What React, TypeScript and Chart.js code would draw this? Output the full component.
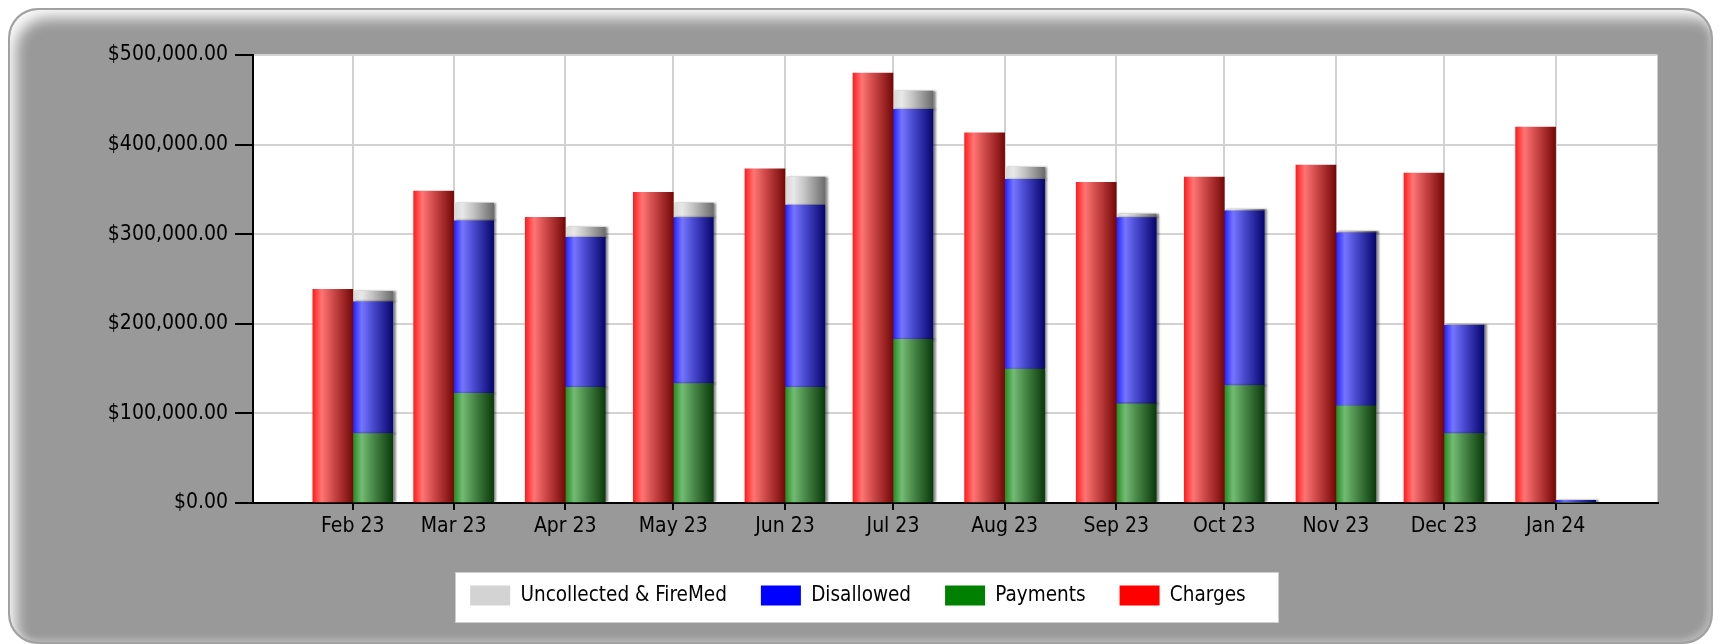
import { useEffect, useRef } from 'react';
import { Chart, registerables } from 'chart.js';

Chart.register(...registerables);

// ---- data ----
const monthLabels = ['Feb 23', 'Mar 23', 'Apr 23', 'May 23', 'Jun 23', 'Jul 23', 'Aug 23', 'Sep 23', 'Oct 23', 'Nov 23', 'Dec 23', 'Jan 24'];
const monthStarts = ['2023-02-01', '2023-03-01', '2023-04-01', '2023-05-01', '2023-06-01', '2023-07-01', '2023-08-01', '2023-09-01', '2023-10-01', '2023-11-01', '2023-12-01', '2024-01-01'];
const charges = [238300, 348100, 318700, 346800, 372800, 479900, 413000, 357800, 363800, 377200, 368300, 419600];
const payments = [77500, 122200, 128900, 133300, 128900, 182500, 149300, 110600, 131100, 108300, 77500, 0];
const disallowed = [147000, 192700, 167500, 185300, 203700, 256900, 212000, 208000, 194900, 193200, 120600, 3000];
const uncollected = [11600, 19800, 11100, 16000, 31200, 20400, 13400, 3700, 1800, 1700, 800, 0];
const yTickValues = [0, 100000, 200000, 300000, 400000, 500000];
// axis range in days relative to the first month start
const xRangeDays = [-27.8, 362.3];

const FONT = "'DejaVu Sans Condensed', 'DejaVu Sans', sans-serif";
const AXIS_FONT_SIZE = 21;
const LEGEND_FONT_SIZE = 20.5;

const dayOf = (d: string) => (Date.parse(d) - Date.parse(monthStarts[0])) / 86400000;
const dayOffsets = monthStarts.map(dayOf);

const STOPS: [number, string][][] = [
  [[0, '#ff1e1e'], [0.22, '#ff7575'], [0.5, '#d04a4a'], [1, '#760808']],
  [[0, '#1e8c1e'], [0.22, '#74bb74'], [0.5, '#4a8a4a'], [1, '#0a3a0a']],
  [[0, '#1e1eff'], [0.22, '#7575ff'], [0.5, '#4a4ad0'], [1, '#06066e']],
  [[0, '#d6d6d6'], [0.22, '#e8e8e8'], [0.5, '#c2c2c2'], [1, '#6c6c6c']],
];

const barStyle = {
  id: 'barStyle',
  beforeDraw(chart: any) {
    const { ctx, chartArea } = chart;
    ctx.save();
    ctx.fillStyle = '#ffffff';
    ctx.fillRect(chartArea.left, chartArea.top, chartArea.right - chartArea.left, chartArea.bottom - chartArea.top);
    const hb = chart.legend && chart.legend.legendHitBoxes;
    if (hb && hb.length) {
      const first = hb[0];
      const last = hb[hb.length - 1];
      const l = Math.round(first.left - 15.7) + 0.5;
      const r = Math.round(last.left + last.width + 32) + 0.5;
      const t = Math.round(first.top - 13.3) + 0.5;
      const b = t + 50;
      ctx.fillStyle = '#ffffff';
      ctx.fillRect(l, t, r - l, b - t);
      ctx.strokeStyle = '#cdcdcd';
      ctx.lineWidth = 1;
      ctx.strokeRect(l, t, r - l, b - t);
    }
    ctx.restore();
  },
  beforeDatasetsDraw(chart: any) {
    const ctx = chart.ctx;
    chart.data.datasets.forEach((_ds: any, di: number) => {
      const meta = chart.getDatasetMeta(di);
      const stops = STOPS[di];
      meta.data.forEach((el: any) => {
        const left = el.x - el.width / 2;
        const g = ctx.createLinearGradient(left, 0, left + el.width, 0);
        stops.forEach(([o, c]) => g.addColorStop(o, c));
        el.options = Object.assign({}, el.options, { backgroundColor: g });
      });
    });
  },
  beforeDatasetDraw(chart: any, args: any) {
    const ctx = chart.ctx;
    ctx.save();
    if (args.index > 0) {
      ctx.shadowColor = 'rgba(0,0,0,0.45)';
      ctx.shadowOffsetX = 2.5;
      ctx.shadowOffsetY = 0;
      ctx.shadowBlur = 2;
    }
  },
  afterDatasetDraw(chart: any) {
    chart.ctx.restore();
  },
};

const pts = (arr: number[]) => arr.map((v, i) => ({ x: dayOffsets[i], y: v }));

export default function App() {
  const ref = useRef<HTMLCanvasElement>(null);
  useEffect(() => {
    if (!ref.current) return;
    const flat = (c: string) => () => c;
    const chart = new Chart(ref.current, {
      type: 'bar',
      data: {
        datasets: [
          { label: 'Charges', data: pts(charges), stack: 'a', backgroundColor: flat('#ff0000') as any, borderWidth: 0 },
          { label: 'Payments', data: pts(payments), stack: 'b', backgroundColor: flat('#008000') as any, borderWidth: 0 },
          { label: 'Disallowed', data: pts(disallowed), stack: 'b', backgroundColor: flat('#0000ff') as any, borderWidth: 0 },
          { label: 'Uncollected & FireMed', data: pts(uncollected), stack: 'b', backgroundColor: flat('#d3d3d3') as any, borderWidth: 0 },
        ] as any,
      },
      options: {
        responsive: false,
        animation: false,
        events: [],
        barThickness: 40,
        layout: { padding: { left: 50.3, right: 55.5, top: 47, bottom: 28.3 } },
        plugins: {
          tooltip: { enabled: false },
          legend: {
            position: 'bottom',
            labels: {
              boxWidth: 40,
              boxHeight: 20,
              padding: 34,
              color: '#000',
              font: { family: FONT, size: LEGEND_FONT_SIZE },
              sort: (a: any, b: any) => b.datasetIndex - a.datasetIndex,
            },
          },
        },
        scales: {
          x: {
            type: 'linear',
            stacked: true,
            offset: false,
            min: xRangeDays[0],
            max: xRangeDays[1],
            afterBuildTicks: (scale: any) => {
              scale.ticks = dayOffsets.map((v) => ({ value: v }));
            },
            afterFit: (scale: any) => {
              scale.height = 48.3;
            },
            ticks: {
              autoSkip: false,
              maxRotation: 0,
              padding: 4,
              color: '#000',
              font: { family: FONT, size: AXIS_FONT_SIZE },
              callback: (_v: any, i: number) => monthLabels[i],
            },
            grid: { offset: false, color: '#d2d2d2', lineWidth: 2, tickLength: 7, tickColor: '#000', tickWidth: 2 },
            border: { display: true, color: '#000', width: 2 },
          },
          y: {
            stacked: true,
            min: 0,
            max: 500000,
            afterBuildTicks: (scale: any) => {
              scale.ticks = yTickValues.map((v) => ({ value: v }));
            },
            afterFit: (scale: any) => {
              scale.width = 194.4;
            },
            ticks: {
              padding: 7,
              color: '#000',
              font: { family: FONT, size: AXIS_FONT_SIZE },
              callback: (v: any) => '$' + Number(v).toLocaleString('en-US', { minimumFractionDigits: 2, maximumFractionDigits: 2 }),
            },
            grid: { color: '#d2d2d2', lineWidth: 2, tickLength: 17.7, tickColor: '#000', tickWidth: 2 },
            border: { display: true, color: '#000', width: 2 },
          },
        },
      } as any,
      plugins: [barStyle],
    });
    return () => chart.destroy();
  }, []);

  return (
    <div style={{ position: 'relative', width: 1705, height: 636 }}>
      <div
        style={{
          position: 'absolute',
          left: 0,
          top: 0,
          width: 1705,
          height: 636,
          boxSizing: 'border-box',
          borderRadius: 30,
          border: '2px solid #a2a2a2',
          background: '#999999',
          boxShadow: 'inset 10px 12px 14px -4px rgba(255,255,255,0.95), inset -3px -3px 6px rgba(255,255,255,0.3)',
        }}
      />
      <canvas ref={ref} width={1705} height={636} style={{ position: 'absolute', left: 0, top: 0 }} />
    </div>
  );
}
